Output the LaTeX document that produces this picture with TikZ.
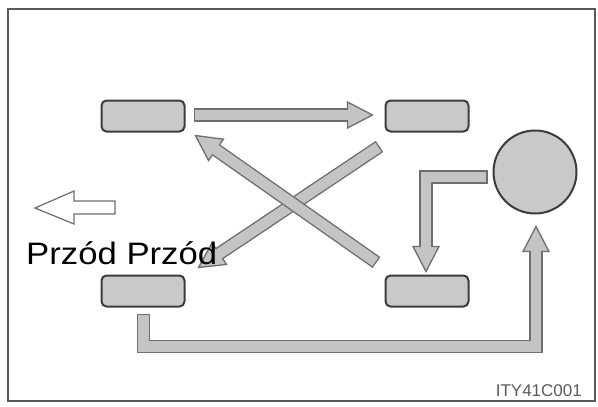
\documentclass[tikz,border=0pt]{standalone}
\usepackage{fontspec}
\setmainfont{Liberation Sans}
\usepackage{xcolor}
\definecolor{tireFill}{HTML}{C9C9C9}
\definecolor{tireEdge}{HTML}{3C3C3C}
\definecolor{arrFill}{HTML}{C4C4C4}
\definecolor{arrEdge}{HTML}{6E6E6E}
\definecolor{frameGray}{HTML}{5A5A5A}
\usepackage{tikz}
\usetikzlibrary{calc}

\tikzset{
  tire/.style={draw=tireEdge, fill=tireFill, line width=2pt, rounded corners=5pt,
    minimum width=83pt, minimum height=31pt, inner sep=0pt},
  spare/.style={circle, draw=tireEdge, fill=tireFill, line width=2pt,
    minimum size=83pt, inner sep=0pt},
  shaft edge/.style={draw=arrEdge, line width=13.4pt, line join=miter},
  shaft body/.style={draw=arrFill, line width=10.6pt, line join=miter},
  shaft head/.style={draw=arrEdge, fill=arrFill, line width=1.3pt, line join=miter}
}

% #1 path up to the last corner, #2 last corner, #3 tip
\newcommand{\fatarrow}[3]{%
  \coordinate (hb) at ($(#3)!25pt!(#2)$);
  \coordinate (hi) at ($(#3)!20pt!(#2)$);
  \draw[shaft edge] #1 -- (hb);
  \filldraw[shaft head] ($(hb)!13pt!90:(#3)$) -- (#3) -- ($(hb)!13pt!-90:(#3)$) -- cycle;
  \draw[shaft body, shorten <=1.4pt] #1 -- (hi);
}

\begin{document}
\begin{tikzpicture}[x=1pt, y=-1pt]
  \useasboundingbox (0,0) rectangle (598,407);
  \draw[frameGray, line width=1.5pt] (8,9) rectangle (595,401);

  % ---- tyres ----
  \node[tire] (ft) at (143,116) {};
  \node[tire] (rt) at (427,116) {};
  \node[tire] (fb) at (143,291) {};
  \node[tire] (rb) at (427,291) {};
  \node[spare] (sp) at (535,172) {};

  % ---- rotation arrows ----
  \coordinate (a1) at ($(ft.east)+(8,-1)$);
  \coordinate (a2) at ($(rt.west)+(-12,-1)$);
  \fatarrow{(a1)}{a1}{a2}

  \coordinate (b1) at ($(rt.south west)+(-5,14)$);
  \coordinate (b2) at ($(fb.north east)+(13,-7)$);
  \fatarrow{(b1)}{b1}{b2}

  \coordinate (c1) at ($(rb.north west)+(-8,-12)$);
  \coordinate (c2) at ($(ft.south east)+(10,3)$);
  \fatarrow{(c1)}{c1}{c2}

  \coordinate (d1) at ($(sp.west)+(-5,5)$);
  \coordinate (d3) at ($(rb.north)+(-1,-3)$);
  \coordinate (d2) at (d3 |- d1);
  \fatarrow{(d1) -- (d2)}{d2}{d3}

  \coordinate (e1) at ($(fb.south)+(0.5,6)$);
  \coordinate (e4) at ($(sp.south)+(1,12)$);
  \coordinate (e2) at ($(e1)+(0,33)$);
  \coordinate (e3) at (e4 |- e2);
  \fatarrow{(e1) -- (e2) -- (e3)}{e3}{e4}

  % ---- driving direction ----
  \draw[draw=gray!85!black, fill=white, line width=1.2pt, line join=miter]
    (35,208) -- (74,191) -- (74,201) -- (115,201) -- (115,214) -- (74,214) -- (74,224) -- cycle;
  \node[anchor=base west, inner sep=0pt, xscale=1.12, font=\fontsize{31}{31}\selectfont]
    (front) at (26,264) {Przód Przód};

  \node[anchor=base east, inner sep=0pt, text=frameGray, font=\fontsize{17}{17}\selectfont]
    (code) at (582,396) {ITY41C001};
\end{tikzpicture}
\end{document}
